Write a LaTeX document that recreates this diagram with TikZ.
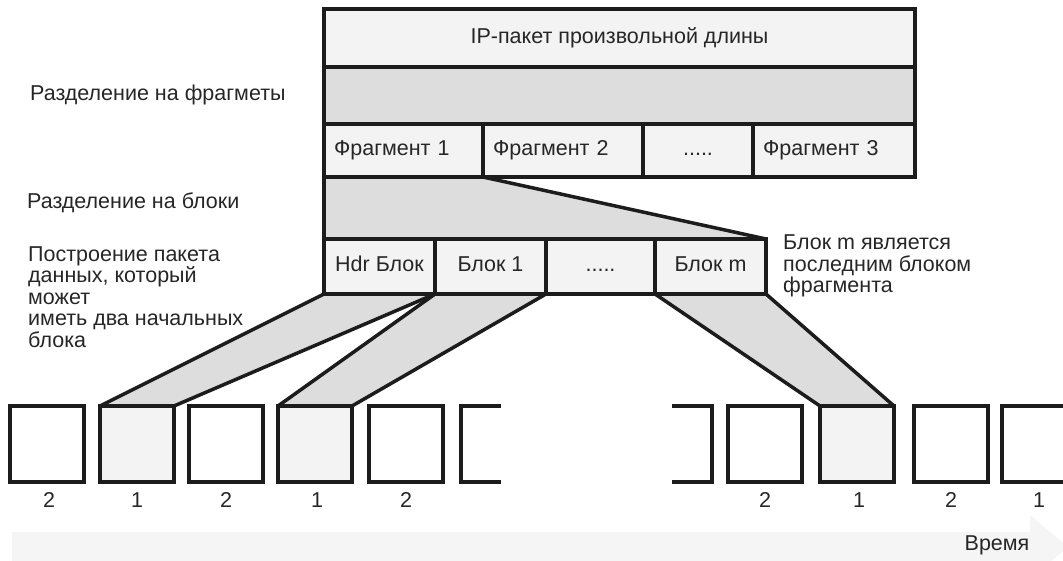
\documentclass[tikz,border=0pt]{standalone}
\usepackage{fontspec}
\setmainfont{Liberation Sans}
\usetikzlibrary{backgrounds}
\definecolor{cellfill}{RGB}{243,243,243}
\definecolor{bandfill}{RGB}{221,221,221}
\definecolor{timefill}{RGB}{245,245,245}
\definecolor{edge}{RGB}{28,28,28}
\newcommand{\figfont}{\fontsize{21.5}{21.5}\selectfont}
\tikzset{
    cell/.style={rectangle, draw=edge, fill=cellfill, line width=3.5pt, inner sep=0pt, outer sep=0pt, anchor=north west, text centered, text height=15.5pt, text depth=4.5pt, text=black!85, font=\figfont},
    fragcell/.style={cell, align=left, inner xsep=10pt, minimum height=53},
    blockcell/.style={cell, minimum height=55},
    slot/.style={rectangle, draw=edge, line width=3.5pt, minimum width=74, minimum height=76, inner sep=0pt, outer sep=0pt, anchor=north west},
    slotsel/.style={slot, fill=cellfill},
    digit/.style={font=\figfont, text=black!85, inner sep=0pt, anchor=base},
    link/.style={draw=edge, line width=3.5pt},
    note/.style={anchor=west, align=left, inner sep=0pt, text=black!85, font=\figfont},
}

\begin{document}
\begin{tikzpicture}[x=1pt, y=-1pt]
    \useasboundingbox (0,0) rectangle (1063,561);

    % time axis
    \fill[timefill] (12,532) -- (1030,532) -- (1030,515) -- (1068,547) -- (1030,579) -- (1030,562) -- (12,562) -- cycle;
    \node[note, anchor=center] (time) at (997,545) {Время};

    % packet and fragments
    \node[cell, minimum width=591, minimum height=58] (ip) at (324,9) {IP-пакет произвольной длины};
    \node[cell, fill=bandfill, minimum width=591, minimum height=57] (split) at (ip.south west) {};
    \node[fragcell, text width=139] (frag1) at (split.south west) {Фрагмент 1};
    \node[fragcell, text width=140] (frag2) at (frag1.north east) {Фрагмент 2};
    \node[cell, minimum width=110, minimum height=53] (fragdots) at (frag2.north east) {.....};
    \node[fragcell, text width=142] (frag3) at (fragdots.north east) {Фрагмент 3};

    % blocks of fragment 1
    \node[blockcell, minimum width=111] (hdr) at (324,239) {Hdr Блок};
    \node[blockcell, minimum width=111] (blk1) at (hdr.north east) {Блок 1};
    \node[blockcell, minimum width=109] (blkdots) at (blk1.north east) {.....};
    \node[blockcell, minimum width=111] (blkm) at (blkdots.north east) {Блок m};

    % slots on the line
    \node[slot] (s1) at (10,406) {};
    \node[slotsel] (s2) at (100,406) {};
    \node[slot] (s3) at (189,406) {};
    \node[slotsel] (s4) at (278,406) {};
    \node[slot] (s5) at (369,406) {};
    \node[slot] (s6) at (728,406) {};
    \node[slotsel] (s7) at (820,406) {};
    \node[slot] (s8) at (914,406) {};
    \node[slot] (s9) at (1002,406) {};
    \draw[link] (501,406) -- (461,406) -- (461,482) -- (501,482);
    \draw[link] (672,406) -- (712,406) -- (712,482) -- (672,482);

    \node[digit] (d1) at ([xshift=2pt, yshift=-25pt]s1.south) {2};
    \node[digit] (d2) at ([yshift=-25pt]s2.south) {1};
    \node[digit] (d3) at ([yshift=-25pt]s3.south) {2};
    \node[digit] (d4) at ([xshift=2pt, yshift=-25pt]s4.south) {1};
    \node[digit] (d5) at ([yshift=-25pt]s5.south) {2};
    \node[digit] (d6) at ([yshift=-25pt]s6.south) {2};
    \node[digit] (d7) at ([xshift=2pt, yshift=-25pt]s7.south) {1};
    \node[digit] (d8) at ([yshift=-25pt]s8.south) {2};
    \node[digit] (d9) at ([yshift=-25pt]s9.south) {1};

    % notes
    \node[note] (splitnote) at (30,95) {Разделение на фрагметы};
    \node[note] (blocknote) at (27,203) {Разделение на блоки};
    \node[note] (buildnote) at (28,297) {Построение пакета\\данных, который\\может\\иметь два начальных\\блока};
    \node[note] (lastnote) at (783,266) {Блок m является\\последним блоком\\фрагмента};

    % shaded links
    \begin{scope}[on background layer]
        \fill[bandfill] (frag1.south west) -- (frag1.south east) -- (blkm.north east) -- (hdr.north west) -- cycle;
        \fill[bandfill] (hdr.south west) -- (hdr.south east) -- (s2.north east) -- (s2.north west) -- cycle;
        \fill[bandfill] (hdr.south east) -- (blk1.south east) -- (s4.north east) -- (s4.north west) -- cycle;
        \fill[bandfill] (blkm.south west) -- (blkm.south east) -- (s7.north east) -- (s7.north west) -- cycle;
    \end{scope}
    \draw[link] (frag1.south west) -- (hdr.north west);
    \draw[link] (frag1.south east) -- (blkm.north east);
    \draw[link] (hdr.south west) -- (s2.north west);
    \draw[link] (hdr.south east) -- (s2.north east);
    \draw[link] (hdr.south east) -- (s4.north west);
    \draw[link] (blk1.south east) -- (s4.north east);
    \draw[link] (blkm.south west) -- (s7.north west);
    \draw[link] (blkm.south east) -- (s7.north east);
\end{tikzpicture}
\end{document}
